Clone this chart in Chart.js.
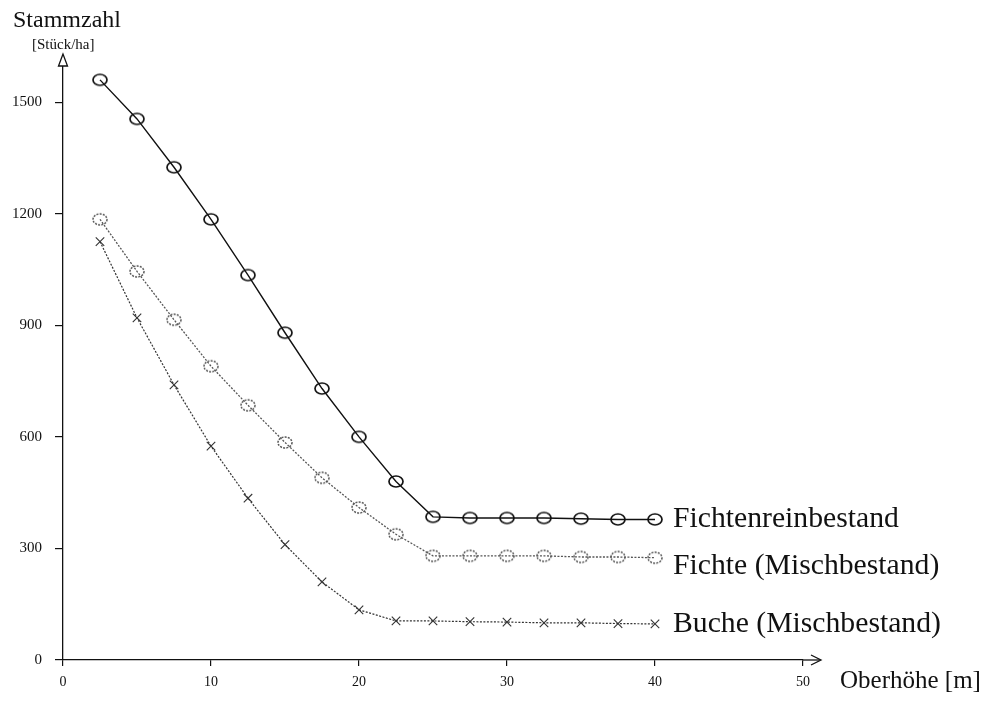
<!DOCTYPE html>
<html>
<head>
<meta charset="utf-8">
<script src="https://cdn.jsdelivr.net/npm/chart.js@4/dist/chart.umd.min.js"></script>
<style>
  html, body { margin: 0; padding: 0; background: #fff; }
  #wrap { width: 985px; height: 704px; }
</style>
</head>
<body>
<div id="wrap"><canvas id="c" width="985" height="704"></canvas></div>
<script>
// Oberhöhe [m]
const heights = [2.5, 5, 7.5, 10, 12.5, 15, 17.5, 20, 22.5, 25, 27.5, 30, 32.5, 35, 37.5, 40];
// Stammzahl [Stück/ha]
const fichtenrein = [1560, 1455, 1325, 1185, 1035, 880, 730, 600, 480, 385, 382, 382, 382, 380, 378, 378];
const fichteMisch = [1185, 1045, 915, 790, 685, 585, 490, 410, 338, 280, 280, 280, 280, 277, 277, 275];
const bucheMisch  = [1125, 920, 740, 575, 435, 310, 210, 135, 105, 105, 103, 102, 100, 100, 98, 97];
const seriesNames = ['Fichtenreinbestand', 'Fichte (Mischbestand)', 'Buche (Mischbestand)'];
const yTicks = [0, 300, 600, 900, 1200, 1500];
const xTicks = [0, 10, 20, 30, 40, 50];

const SERIF = '"Liberation Serif", "DejaVu Serif", serif';

// open ellipse marker drawn on a small canvas
function ellipseMarker(color, width, dash) {
  const c = document.createElement('canvas');
  c.width = 18; c.height = 15;
  const g = c.getContext('2d');
  g.strokeStyle = color;
  g.lineWidth = width;
  g.setLineDash(dash);
  g.beginPath();
  g.ellipse(9, 7.5, 7, 5.5, 0, 0, Math.PI * 2);
  g.stroke();
  return c;
}

function toPoints(vals) {
  return vals.map((v, i) => ({ x: heights[i], y: v }));
}

const labelOffsets = [0, 8, 0];

const decorations = {
  id: 'decorations',
  afterDraw(chart) {
    const ctx = chart.ctx;
    const area = chart.chartArea;
    ctx.save();
    ctx.strokeStyle = '#111';
    ctx.lineWidth = 1.3;
    ctx.fillStyle = '#fff';

    // y axis arrow
    const ax = area.left;
    ctx.beginPath();
    ctx.moveTo(ax, area.top - 11);
    ctx.lineTo(ax - 4.5, area.top + 1);
    ctx.lineTo(ax + 4.5, area.top + 1);
    ctx.closePath();
    ctx.fill();
    ctx.stroke();

    // x axis extension and arrow
    const ay = area.bottom;
    ctx.beginPath();
    ctx.moveTo(area.right, ay);
    ctx.lineTo(area.right + 17, ay);
    ctx.stroke();
    ctx.beginPath();
    ctx.moveTo(area.right + 8, ay - 5);
    ctx.lineTo(area.right + 18, ay);
    ctx.lineTo(area.right + 8, ay + 5);
    ctx.stroke();

    // axis titles
    ctx.fillStyle = '#111';
    ctx.textAlign = 'left';
    ctx.textBaseline = 'alphabetic';
    ctx.font = '24px ' + SERIF;
    ctx.fillText('Stammzahl', 13, 27);
    ctx.font = '15px ' + SERIF;
    ctx.fillText('[Stück/ha]', 32, 49);
    ctx.font = '25px ' + SERIF;
    ctx.fillText('Oberhöhe [m]', area.right + 37, 688);

    // series labels at the end of each line
    ctx.font = '29.7px ' + SERIF;
    ctx.textBaseline = 'middle';
    chart.data.datasets.forEach((ds, i) => {
      const meta = chart.getDatasetMeta(i);
      const last = meta.data[meta.data.length - 1];
      ctx.fillText(seriesNames[i], last.x + 18, last.y + labelOffsets[i]);
    });
    ctx.restore();
  }
};

new Chart(document.getElementById('c'), {
  type: 'line',
  data: {
    datasets: [
      {
        label: seriesNames[0],
        data: toPoints(fichtenrein),
        borderColor: '#111',
        borderWidth: 1.4,
        pointStyle: ellipseMarker('#111', 1.7, []),
        pointRadius: 7,
        tension: 0
      },
      {
        label: seriesNames[1],
        data: toPoints(fichteMisch),
        borderColor: '#555',
        borderWidth: 1.3,
        borderDash: [2, 1.5],
        pointStyle: ellipseMarker('#555', 1.5, [2, 1.2]),
        pointRadius: 7,
        tension: 0
      },
      {
        label: seriesNames[2],
        data: toPoints(bucheMisch),
        borderColor: '#333',
        borderWidth: 1.2,
        borderDash: [2, 1.5],
        pointStyle: 'crossRot',
        pointRadius: 6,
        pointBorderColor: '#333',
        pointBorderWidth: 1.1,
        tension: 0
      }
    ]
  },
  options: {
    responsive: false,
    animation: false,
    layout: { padding: { top: 65, right: 182, left: 0, bottom: 0 } },
    plugins: {
      legend: { display: false },
      tooltip: { enabled: false },
      title: { display: false }
    },
    scales: {
      x: {
        type: 'linear',
        min: 0,
        max: 50,
        afterBuildTicks(scale) { scale.ticks = xTicks.map(v => ({ value: v })); },
        afterFit(scale) { scale.height = 44; },
        grid: { display: true, drawOnChartArea: false, drawTicks: true, tickLength: 6, color: '#111', lineWidth: 1.2 },
        border: { display: true, color: '#111', width: 1.3 },
        ticks: { color: '#111', padding: 8, font: { family: SERIF, size: 14 }, maxRotation: 0, callback: v => String(v) }
      },
      y: {
        type: 'linear',
        min: 0,
        max: 1600,
        afterBuildTicks(scale) { scale.ticks = yTicks.map(v => ({ value: v })); },
        afterFit(scale) { scale.width = 63; },
        grid: { display: true, drawOnChartArea: false, drawTicks: true, tickLength: 8, color: '#111', lineWidth: 1.2 },
        border: { display: true, color: '#111', width: 1.3 },
        ticks: { color: '#111', padding: 13, font: { family: SERIF, size: 15 }, callback: v => String(v) }
      }
    }
  },
  plugins: [decorations]
});
</script>
</body>
</html>
